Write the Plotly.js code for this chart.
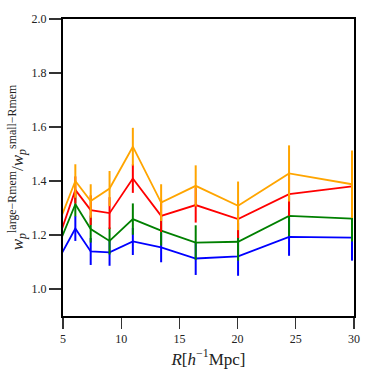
<!DOCTYPE html>
<html>
<head>
<meta charset="utf-8">
<script src="https://cdn.plot.ly/plotly-3.0.1.min.js"></script>
<style>html,body{margin:0;padding:0;background:#fff;}#chart{width:374px;height:373px;}</style>
</head>
<body>
<div id="chart"></div>
<script>
const R = [4.9, 6.06, 7.38, 9.0, 11.0, 13.43, 16.4, 20.04, 24.42, 29.83];
const ratioOrange = [1.272, 1.400, 1.326, 1.372, 1.527, 1.320, 1.382, 1.308, 1.428, 1.388];
const errOrange   = [0.050, 0.062, 0.062, 0.065, 0.070, 0.068, 0.076, 0.090, 0.104, 0.125];
const ratioRed    = [1.221, 1.367, 1.292, 1.281, 1.409, 1.271, 1.311, 1.259, 1.351, 1.380];
const errRed      = [0.045, 0.050, 0.055, 0.059, 0.053, 0.060, 0.065, 0.070, 0.080, 0.100];
const ratioGreen  = [1.192, 1.314, 1.222, 1.178, 1.259, 1.216, 1.172, 1.175, 1.271, 1.261];
const errGreen    = [0.040, 0.045, 0.050, 0.050, 0.058, 0.055, 0.064, 0.070, 0.075, 0.085];
const ratioBlue   = [1.132, 1.224, 1.139, 1.136, 1.176, 1.154, 1.113, 1.121, 1.193, 1.190];
const errBlue     = [0.040, 0.046, 0.050, 0.050, 0.050, 0.055, 0.061, 0.072, 0.070, 0.085];
const yTicks = [1.0, 1.2, 1.4, 1.6, 1.8, 2.0];
const xTicks = [5, 10, 15, 20, 25, 30];

function tr(y, e, color) {
  return {
    x: R, y: y, type: 'scatter', mode: 'lines',
    line: {color: color, width: 1.8},
    error_y: {type: 'data', array: e, visible: true, color: color, thickness: 2, width: 0},
    hoverinfo: 'skip', showlegend: false, cliponaxis: true
  };
}
const data = [
  tr(ratioBlue, errBlue, 'blue'),
  tr(ratioGreen, errGreen, 'green'),
  tr(ratioRed, errRed, 'red'),
  tr(ratioOrange, errOrange, 'orange')
];
const font = {family: 'Liberation Serif, DejaVu Serif, serif', color: '#222'};
const layout = {
  width: 374, height: 373,
  margin: {l: 63, r: 20, t: 19, b: 57},
  paper_bgcolor: '#fff', plot_bgcolor: '#fff',
  font: Object.assign({size: 13}, font),
  xaxis: {
    range: [5, 30], tickvals: xTicks, ticktext: xTicks.map(String),
    showgrid: false, zeroline: false,
    showline: true, mirror: true, linecolor: '#000', linewidth: 2,
    ticks: 'outside', ticklen: 11, tickwidth: 1.2, tickcolor: '#333',
    tickfont: Object.assign({size: 12}, font),
    title: {text: '<i>R</i>[<i>h</i><sup>−1</sup>Mpc]', font: Object.assign({size: 17}, font), standoff: 6}
  },
  yaxis: {
    range: [0.9, 2.0], tickvals: yTicks, ticktext: yTicks.map(v => v.toFixed(1)),
    showgrid: false, zeroline: false,
    showline: true, mirror: true, linecolor: '#000', linewidth: 2,
    ticks: 'outside', ticklen: 12, tickwidth: 1.2, tickcolor: '#333',
    tickfont: Object.assign({size: 12}, font),
    title: {text: '<i>w</i><sub><i>p</i></sub><sup>large−Rmem</sup>/<i>w</i><sub><i>p</i></sub><sup>small−Rmem</sup>', font: Object.assign({size: 17}, font), standoff: 4}
  }
};
Plotly.newPlot('chart', data, layout, {staticPlot: true, displayModeBar: false});
</script>
</body>
</html>
